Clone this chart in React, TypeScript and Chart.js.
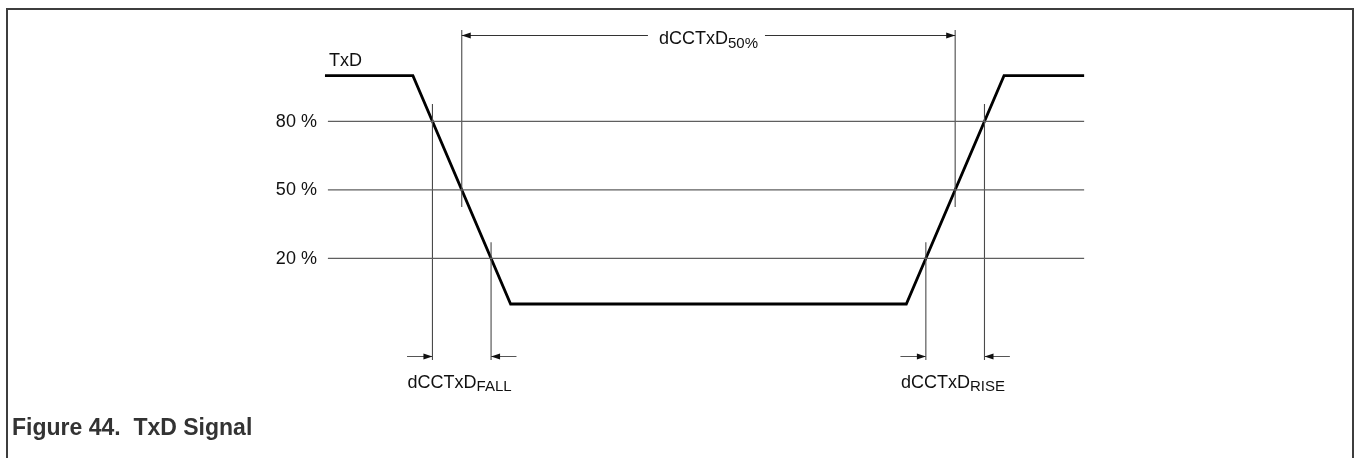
import React, { useEffect, useRef } from "react";
import { Chart, registerables } from "chart.js";

Chart.register(...registerables);

// ---- data (time in arbitrary units, level in % of swing) ----
const signalTime = [1, 10, 20, 60.5, 70.5, 78.7];
const signalLevel = [100, 100, 0, 0, 100, 100];

const thresholdLevels = [80, 50, 20];
const thresholdLabels = ["80 %", "50 %", "20 %"];
const thresholdSpan = [1.3, 78.7];

// crossing markers (time, top level, bottom level)
const markerTimes = [12, 15, 18, 62.5, 65.5, 68.5];
const markerTop = [87.6, 120, 27.1, 27.1, 120, 87.6];
const markerBottom = [-24.5, 42.5, -24.5, -24.5, 42.5, -24.5];

// dimension annotations
const dimTopLevel = 118;
const dimTopFrom = 15;
const dimTopTo = 65.5;
const dimBottomLevel = -22.6;
const dimArrowLen = 2.6;
const fallMarks = [12, 18];
const riseMarks = [62.5, 68.5];

const signalName = "TxD";
const caption = "Figure 44.  TxD Signal";

const X_MIN = -32.26;
const X_MAX = 106.32;
const Y_MIN = -67.45;
const Y_MAX = 133.16;

const W = 1354;
const H = 458;

const FONT = '"Liberation Sans", Arial, Helvetica, sans-serif';

function drawArrowHead(ctx: CanvasRenderingContext2D, tipX: number, y: number, dir: number) {
  // dir = +1 points right, -1 points left
  const len = 9;
  const half = 3;
  ctx.beginPath();
  ctx.moveTo(tipX, y);
  ctx.lineTo(tipX - dir * len, y - half);
  ctx.lineTo(tipX - dir * len, y + half);
  ctx.closePath();
  ctx.fill();
}

function drawSubLabel(
  ctx: CanvasRenderingContext2D,
  main: string,
  sub: string,
  x: number,
  baseline: number,
  align: "left" | "center"
) {
  ctx.font = `18px ${FONT}`;
  const wMain = ctx.measureText(main).width;
  ctx.font = `15px ${FONT}`;
  const wSub = ctx.measureText(sub).width;
  let startX = x;
  if (align === "center") startX = x - (wMain + wSub) / 2;
  ctx.textAlign = "left";
  ctx.textBaseline = "alphabetic";
  ctx.font = `18px ${FONT}`;
  ctx.fillText(main, startX, baseline);
  ctx.font = `15px ${FONT}`;
  ctx.fillText(sub, startX + wMain, baseline + 3.5);
  return { startX, endX: startX + wMain + wSub };
}

const annotationPlugin = {
  id: "txdAnnotations",
  beforeDraw(chart: any) {
    const ctx: CanvasRenderingContext2D = chart.ctx;
    ctx.save();
    ctx.fillStyle = "#ffffff";
    ctx.fillRect(0, 0, chart.width, chart.height);
    // frame (no bottom edge)
    ctx.strokeStyle = "#3d3d3d";
    ctx.lineWidth = 2;
    ctx.beginPath();
    ctx.moveTo(7, H + 5);
    ctx.lineTo(7, 9);
    ctx.lineTo(1353, 9);
    ctx.lineTo(1353, H + 5);
    ctx.stroke();
    ctx.restore();
  },
  afterDraw(chart: any) {
    const ctx: CanvasRenderingContext2D = chart.ctx;
    const xs = chart.scales.x;
    const ys = chart.scales.y;
    ctx.save();
    ctx.fillStyle = "#111";
    ctx.strokeStyle = "#333";
    ctx.lineWidth = 1;

    // level labels
    ctx.font = `18px ${FONT}`;
    ctx.textAlign = "right";
    ctx.textBaseline = "middle";
    const labelX = xs.getPixelForValue(thresholdSpan[0]) - 11;
    thresholdLevels.forEach((lv, i) => {
      ctx.fillText(thresholdLabels[i], labelX, ys.getPixelForValue(lv) + 0.5);
    });

    // signal name
    ctx.textAlign = "left";
    ctx.textBaseline = "alphabetic";
    ctx.fillText(signalName, xs.getPixelForValue(signalTime[0]) + 4, ys.getPixelForValue(signalLevel[0]) - 10);

    // top dimension
    const yTop = Math.round(ys.getPixelForValue(dimTopLevel)) + 0.5;
    const xa = xs.getPixelForValue(dimTopFrom);
    const xb = xs.getPixelForValue(dimTopTo);
    const mid = (xa + xb) / 2;
    const lab = drawSubLabel(ctx, "dCCTxD", "50%", mid, yTop + 8.5, "center");
    ctx.beginPath();
    ctx.moveTo(xa, yTop);
    ctx.lineTo(lab.startX - 11, yTop);
    ctx.moveTo(lab.endX + 7, yTop);
    ctx.lineTo(xb, yTop);
    ctx.stroke();
    drawArrowHead(ctx, xa, yTop, -1);
    drawArrowHead(ctx, xb, yTop, 1);

    // bottom dimensions
    const yBot = Math.round(ys.getPixelForValue(dimBottomLevel)) + 0.5;
    const drawPair = (marks: number[], sub: string) => {
      const x1 = xs.getPixelForValue(marks[0]);
      const x0 = xs.getPixelForValue(marks[0] - dimArrowLen);
      const x2 = xs.getPixelForValue(marks[1]);
      const x3 = xs.getPixelForValue(marks[1] + dimArrowLen);
      ctx.strokeStyle = "#555";
      ctx.beginPath();
      ctx.moveTo(x0, yBot);
      ctx.lineTo(x1, yBot);
      ctx.moveTo(x2, yBot);
      ctx.lineTo(x3, yBot);
      ctx.stroke();
      ctx.fillStyle = "#111";
      drawArrowHead(ctx, x1, yBot, 1);
      drawArrowHead(ctx, x2, yBot, -1);
      drawSubLabel(ctx, "dCCTxD", sub, x0 + 0.5, yBot + 31, "left");
    };
    drawPair(fallMarks, "FALL");
    drawPair(riseMarks, "RISE");

    // caption
    ctx.fillStyle = "#333";
    ctx.font = `bold 23px ${FONT}`;
    ctx.textAlign = "left";
    ctx.textBaseline = "alphabetic";
    ctx.fillText(caption, 12, 435);
    ctx.restore();
  },
};

export default function App() {
  const ref = useRef<HTMLCanvasElement | null>(null);

  useEffect(() => {
    if (!ref.current) return;
    const datasets: any[] = [];

    thresholdLevels.forEach((lv) => {
      datasets.push({
        data: [
          { x: thresholdSpan[0], y: lv },
          { x: thresholdSpan[1], y: lv },
        ],
        borderColor: "#5f5f5f",
        borderWidth: 1.2,
        showLine: true,
        pointRadius: 0,
      });
    });

    markerTimes.forEach((t, i) => {
      datasets.push({
        data: [
          { x: t, y: markerTop[i] },
          { x: t, y: markerBottom[i] },
        ],
        borderColor: "#4a4a4a",
        borderWidth: 1.1,
        showLine: true,
        pointRadius: 0,
      });
    });

    datasets.push({
      data: signalTime.map((t, i) => ({ x: t, y: signalLevel[i] })),
      borderColor: "#000000",
      borderWidth: 2.8,
      showLine: true,
      pointRadius: 0,
      borderJoinStyle: "miter",
      borderCapStyle: "butt",
    });

    const chart = new Chart(ref.current, {
      type: "scatter",
      data: { datasets },
      options: {
        animation: false,
        responsive: false,
        maintainAspectRatio: false,
        devicePixelRatio: 1,
        layout: { padding: 0 },
        plugins: {
          legend: { display: false },
          tooltip: { enabled: false },
          title: { display: false },
        },
        elements: { line: { tension: 0 } },
        scales: {
          x: { type: "linear", display: false, min: X_MIN, max: X_MAX },
          y: { type: "linear", display: false, min: Y_MIN, max: Y_MAX },
        },
      },
      plugins: [annotationPlugin],
    });
    return () => chart.destroy();
  }, []);

  return (
    <div style={{ position: "fixed", left: 0, top: 0, width: W, height: H, background: "#fff" }}>
      <canvas ref={ref} width={W} height={H} style={{ display: "block", width: W, height: H }} />
    </div>
  );
}
